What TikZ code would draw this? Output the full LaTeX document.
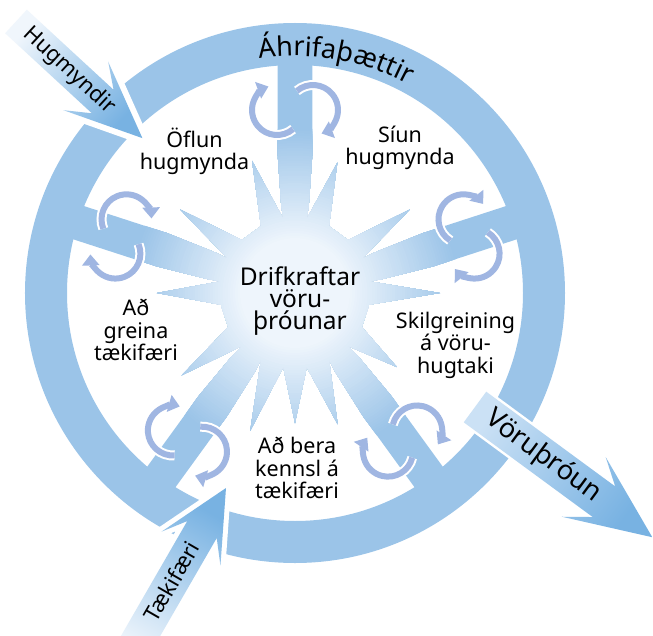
\documentclass[tikz,border=0pt]{standalone}
\usepackage{fontspec}
\setmainfont{Noto Sans}
\usetikzlibrary{arrows.meta,decorations.text,calc}
\definecolor{ringblue}{RGB}{155,196,232}
\definecolor{starwhite}{RGB}{238,245,252}
\definecolor{tipblue}{RGB}{120,178,226}
\definecolor{cycblue}{RGB}{160,182,226}
\definecolor{paleblue}{RGB}{240,246,252}
\definecolor{shaftblue}{RGB}{203,225,245}
\newcommand\spk[2]{-- (#1-9:75) -- (#1:#2) -- (#1+9:75)}
\newcommand\spoke[1]{-- (#1-9:88) -- (#1-7.1:141.1) -- (#1-4:250.6) -- (#1+4:250.6) -- (#1+7.1:141.1) -- (#1+9:88)}
\tikzset{
  lbl/.style={font=\fontsize{21.5}{22.5}\selectfont, align=center, inner sep=0pt},
  arrlbl/.style={font=\fontsize{22}{22}\selectfont, inner sep=0pt},
  cyc/.pic={
    \foreach \cx/\sa/\ea in {-18/-50/-250, 18/130/-70}{
      \draw[white, line width=10pt, -{Triangle[width=22pt,length=14pt]}] ([shift={(\cx,0)}]\sa:25) arc[start angle=\sa, end angle=\ea, radius=25];
    }
    \foreach \cx/\sa/\ea in {-18/-50/-250, 18/130/-70}{
      \draw[cycblue, line width=6pt, -{Triangle[width=17pt,length=11pt]}] ([shift={(\cx,0)}]\sa:25) arc[start angle=\sa, end angle=\ea, radius=25];
    }
  },
}
\begin{document}
\begin{tikzpicture}[x=1pt,y=1pt]
\useasboundingbox (-295,-342) rectangle (358,293);
\clip (-295,-342) rectangle (358,293);

% ring
\fill[ringblue, even odd rule] (0,0) circle[radius=270] (0,0) circle[radius=228];

% star with spokes, radial gradient built from rings
\begin{scope}
\clip (-9:75) \spk{0}{145} \spoke{18} \spk{36}{142} \spk{72}{137} \spoke{90}
  \spk{108}{139} \spk{144}{142} \spoke{162} \spk{180}{138} \spk{216}{140}
  \spoke{234} \spk{252}{145} \spk{270}{130} \spk{288}{138} \spoke{306}
  \spk{324}{126} -- cycle;
\fill[ringblue] (0,0) circle[radius=300];
\foreach \i in {0,...,44}{
  \pgfmathsetmacro\rr{165-2.5*\i}
  \pgfmathtruncatemacro\pp{100*\i/44}
  \fill[starwhite!\pp!ringblue] (0,0) circle[radius=\rr];
}
\end{scope}

% cycle icons
\foreach \a/\n in {90/c1, 18/c2, 306/c3, 234/c4, 162/c5}
  \pic[rotate=\a-90] (\n) at (\a:183) {cyc};

% Hugmyndir arrow
\begin{scope}[shift={(-279,271.5)}, rotate=-42.7]
\coordinate (h1) at (0,16); \coordinate (h2) at (118,16); \coordinate (h3) at (95,33);
\coordinate (h4) at (172,0); \coordinate (h5) at (95,-33); \coordinate (h6) at (118,-16);
\coordinate (h7) at (0,-16);
\end{scope}
\draw[white, line width=12pt, line join=round] (h1)--(h2)--(h3)--(h4)--(h5)--(h6)--(h7)--cycle;
\shade[bottom color=paleblue, top color=tipblue, shading angle=-132.7] (h1)--(h2)--(h3)--(h4)--(h5)--(h6)--(h7)--cycle;

% Taekifaeri arrow
\begin{scope}[shift={(-69,-195)}, rotate=60]
\coordinate (t1) at (-200,17); \coordinate (t2) at (-48,17); \coordinate (t3) at (-70,34);
\coordinate (t4) at (0,0); \coordinate (t5) at (-70,-34); \coordinate (t6) at (-48,-17);
\coordinate (t7) at (-200,-17);
\end{scope}
\draw[white, line width=10pt, line join=round] (t1)--(t2)--(t3)--(t4)--(t5)--(t6)--(t7)--cycle;
\shade[bottom color=paleblue, top color=tipblue, shading angle=-30] (t1)--(t2)--(t3)--(t4)--(t5)--(t6)--(t7)--cycle;

% Voruthroun arrow
\begin{scope}[shift={(180,-114)}, rotate=-36.3]
\coordinate (v1) at (0,19); \coordinate (v2) at (160,19); \coordinate (v3) at (135,37);
\coordinate (v4) at (220,0); \coordinate (v5) at (135,-37); \coordinate (v6) at (160,-19);
\coordinate (v7) at (0,-19);
\end{scope}
\draw[white, line width=5pt, line join=round] (v1)--(v2)--(v3)--(v4)--(v5)--(v6)--(v7)--cycle;
\shade[bottom color=shaftblue, top color=tipblue, shading angle=-126.3] (v1)--(v2)--(v3)--(v4)--(v5)--(v6)--(v7)--cycle;

% ring text
\path[decorate, decoration={text along path, text align=center,
  text={|\fontsize{27}{27}\selectfont|Áhrifaþættir}}]
  (140:237) arc[start angle=140, end angle=20, radius=237];

% labels
\node[lbl] (oflun) at (-100.5,141.75) {Öflun\\hugmynda};
\node[lbl] (siun) at (105,145.25) {Síun\\hugmynda};
\node[lbl, font=\fontsize{24.5}{22}\selectfont] (drif) at (5,-8) {Drifkraftar\\vöru-\\þróunar};
\node[lbl] (skil) at (160.5,-52) {Skilgreining\\á vöru-\\hugtaki};
\node[lbl] (greina) at (-159,-37) {Að\\greina\\tækifæri};
\node[lbl] (bera) at (2,-175) {Að bera\\kennsl á\\tækifæri};
\node[arrlbl, rotate=-42.7] (hug) at (-226,222) {Hugmyndir};
\node[arrlbl, rotate=60] (taek) at (-123.5,-288.5) {Tækifæri};
\node[arrlbl, font=\bfseries\fontsize{27}{27}\selectfont, rotate=-36.3] (voru) at (248.5,-163.5) {Vöruþróun};
\end{tikzpicture}
\end{document}
